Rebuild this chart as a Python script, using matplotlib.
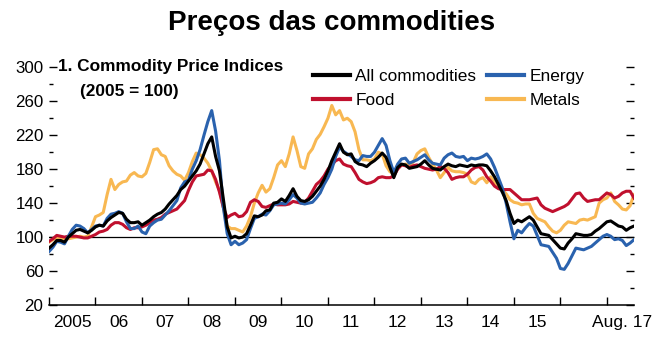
import numpy as np
import matplotlib
matplotlib.use("Agg")
import matplotlib.pyplot as plt
from matplotlib.ticker import FixedLocator, NullFormatter, FixedFormatter

# monthly indices, Jan 2005 .. Aug 2017 (2005 = 100)
all_commodities = [
    87, 91, 96, 96, 94, 100, 104, 108, 109, 107, 105, 108,
    112, 114, 113, 119, 123, 126, 129, 128, 121, 117, 117, 118,
    114, 117, 120, 124, 127, 129, 133, 139, 144, 149, 156, 160,
    166, 172, 178, 186, 198, 210, 218, 195, 178, 145, 112, 99,
    101, 99, 100, 104, 114, 125, 124, 126, 131, 132, 140, 141,
    145, 142, 149, 157, 148, 143, 142, 144, 148, 154, 160, 168,
    178, 190, 200, 210, 200, 197, 198, 189, 186, 185, 183, 187,
    190, 194, 199, 194, 182, 170, 182, 186, 185, 181, 182, 183,
    186, 190, 185, 181, 180, 179, 183, 186, 184, 183, 185, 184,
    183, 185, 184, 185, 185, 184, 178, 171, 162, 153, 143, 128,
    116, 120, 118, 121, 124, 120, 112, 104, 103, 102, 97, 92,
    87, 86, 93, 98, 104, 103, 102, 102, 103, 107, 110, 114,
    118, 119, 116, 113, 112, 108, 111, 113,
]
energy = [
    83, 88, 95, 94, 92, 101, 109, 114, 113, 110, 105, 109,
    113, 114, 113, 122, 127, 128, 130, 128, 118, 110, 110, 113,
    106, 104, 113, 117, 120, 121, 126, 131, 137, 143, 158, 165,
    167, 180, 190, 203, 220, 236, 249, 225, 190, 135, 104, 91,
    95, 91, 93, 97, 110, 122, 124, 127, 126, 131, 138, 139,
    140, 139, 144, 150, 146, 140, 139, 140, 141, 146, 152, 162,
    170, 180, 195, 206, 201, 198, 195, 191, 190, 196, 195, 195,
    200, 208, 216, 208, 190, 176, 186, 192, 193, 187, 189, 191,
    194, 197, 191, 187, 186, 185, 193, 197, 199, 195, 194, 195,
    190, 193, 192, 193, 195, 198, 192, 182, 170, 158, 140, 118,
    98, 108, 105, 111, 116, 113, 102, 91, 90, 89, 82, 75,
    63, 62, 69, 78, 87, 86, 85, 87, 89, 93, 97, 101,
    103, 101, 97, 98, 96, 90, 93, 97,
]
food = [
    95, 98, 102, 101, 100, 101, 101, 101, 100, 99, 99, 101,
    103, 106, 107, 109, 114, 117, 117, 115, 111, 109, 111, 111,
    112, 114, 117, 120, 121, 123, 127, 129, 131, 133, 138, 143,
    155, 165, 172, 173, 174, 179, 178, 168, 153, 135, 123, 126,
    128, 124, 125, 130, 141, 144, 142, 136, 135, 137, 139, 138,
    138, 138, 139, 142, 141, 140, 141, 146, 154, 162, 166, 172,
    180, 185, 190, 192, 186, 184, 183, 176, 168, 165, 163, 164,
    166, 170, 171, 170, 170, 172, 180, 185, 184, 182, 184, 185,
    183, 181, 180, 179, 180, 183, 181, 176, 168, 170, 171, 171,
    174, 179, 182, 183, 179, 171, 166, 160, 157, 156, 156, 156,
    152, 148, 144, 144, 144, 145, 146, 138, 134, 132, 130, 132,
    134, 136, 139, 145, 151, 152, 146, 142, 143, 144, 144, 148,
    152, 150, 146, 148, 152, 154, 154, 146,
]
metals = [
    94, 97, 99, 98, 97, 98, 99, 100, 101, 100, 101, 112,
    124, 126, 129, 150, 168, 156, 162, 165, 166, 173, 176, 172,
    171, 175, 188, 203, 204, 197, 195, 184, 178, 174, 172, 167,
    176, 189, 199, 197, 193, 187, 178, 165, 155, 135, 113, 110,
    110, 108, 106, 113, 124, 140, 152, 161, 153, 157, 170, 185,
    190, 183, 198, 218, 202, 183, 181, 198, 204, 215, 221, 230,
    240, 255, 244, 249, 238, 240, 236, 224, 203, 191, 191, 190,
    192, 200, 198, 184, 177, 175, 184, 185, 186, 185, 188, 198,
    202, 204, 194, 186, 179, 170, 176, 182, 178, 177, 177, 176,
    174, 165, 163, 168, 170, 164, 171, 165, 160, 156, 151, 144,
    141, 140, 138, 139, 139, 128, 122, 120, 118, 112, 107, 105,
    108, 114, 118, 117, 116, 120, 121, 120, 122, 124, 140, 144,
    146, 152, 142, 138, 133, 132, 137, 150,
]
year_labels = ["2005", "06", "07", "08", "09", "10", "11", "12",
               "13", "14", "15", "", "Aug. 17"]
y_major = [20, 60, 100, 140, 180, 220, 260, 300]
y_minor = [40, 80, 120, 160, 200, 240, 280]

black = "#000000"
blue = "#2a62ae"
red = "#c0102e"
yellow = "#f8b852"

plt.rcParams["font.family"] = ["Liberation Sans", "DejaVu Sans"]

fig = plt.figure(figsize=(6.6, 3.45), dpi=100)
ax = fig.add_axes([49 / 660, 40 / 345, 585 / 660, 237.7 / 345])

months = np.arange(len(all_commodities))
ax.axhline(100, color="black", lw=0.9, zorder=1)
ax.plot(months, metals, color=yellow, lw=2.2, label="Metals", zorder=2)
ax.plot(months, food, color=red, lw=2.2, label="Food", zorder=3)
ax.plot(months, energy, color=blue, lw=2.2, label="Energy", zorder=4)
ax.plot(months, all_commodities, color=black, lw=2.2, label="All commodities", zorder=5)

ax.set_xlim(0, len(all_commodities) - 1)
ax.set_ylim(20, 300)

for s in ["top", "left", "right"]:
    ax.spines[s].set_visible(False)
ax.spines["bottom"].set_linewidth(1.1)

# y ticks both sides, pointing in
ax.yaxis.set_major_locator(FixedLocator(y_major))
ax.yaxis.set_minor_locator(FixedLocator(y_minor))
ax.tick_params(axis="y", which="major", direction="in", length=5.5, width=1.0,
               left=True, right=True, labelsize=12.2, pad=4)
ax.tick_params(axis="y", which="minor", direction="in", length=3, width=1.0,
               left=True, right=True)

# year boundaries as ticks, labels centred on the year
ax.xaxis.set_major_locator(FixedLocator(np.arange(0, 152, 12)))
ax.xaxis.set_major_formatter(NullFormatter())
label_pos = [6 + 12 * k for k in range(11)] + [148]
ax.xaxis.set_minor_locator(FixedLocator(label_pos))
ax.xaxis.set_minor_formatter(FixedFormatter(year_labels[:11] + [year_labels[12]]))
ax.tick_params(axis="x", which="major", direction="in", length=6, width=1.0)
ax.tick_params(axis="x", which="minor", length=0, labelsize=12.5, pad=7)

fig.text(0.502, 0.933, "Preços das commodities", ha="center", va="center",
         fontsize=20, fontweight="bold")
fig.text(58 / 660, 1 - 66.7 / 345, "1. Commodity Price Indices", ha="left", va="center",
         fontsize=12.4, fontweight="bold")
fig.text(80 / 660, 1 - 91.7 / 345, "(2005 = 100)", ha="left", va="center",
         fontsize=12.4, fontweight="bold")

h, l = ax.get_legend_handles_labels()
order = [3, 1, 2, 0]
leg = fig.legend([h[i] for i in order], [l[i] for i in order], ncol=2,
                 loc="upper left", bbox_to_anchor=(313 / 660, 1 - 69 / 345),
                 frameon=False, fontsize=12.4, borderpad=0, borderaxespad=0,
                 handlelength=2.15, handletextpad=0.3, columnspacing=0.64,
                 labelspacing=0.52)
for line in leg.get_lines():
    line.set_linewidth(3.0)

fig.savefig("out.png", dpi=100)
